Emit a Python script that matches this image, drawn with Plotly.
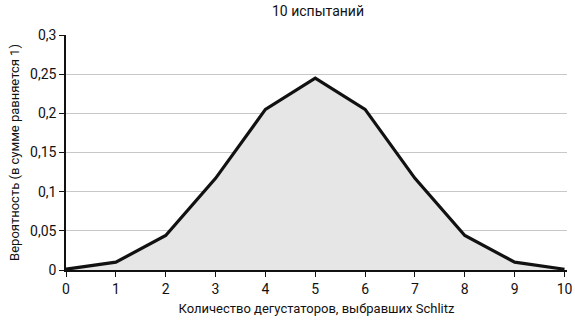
import plotly.graph_objects as go

tasters = [0, 1, 2, 3, 4, 5, 6, 7, 8, 9, 10]
probability = [0.001, 0.010, 0.044, 0.117, 0.205, 0.245, 0.205, 0.117, 0.044, 0.010, 0.001]
y_ticks = [0, 0.05, 0.1, 0.15, 0.2, 0.25, 0.3]
y_tick_labels = ["0", "0,05", "0,1", "0,15", "0,2", "0,25", "0,3"]

FONT = "Liberation Sans Narrow, Roboto, Arial Narrow, sans-serif"

fig = go.Figure()
fig.add_trace(go.Scatter(
    x=tasters, y=probability, mode="lines",
    line=dict(color="#111111", width=3.2),
    fill="tozeroy", fillcolor="#e6e6e6",
    hoverinfo="skip", showlegend=False,
))

fig.update_layout(
    width=575, height=320,
    margin=dict(l=66, r=3, t=35, b=50),
    paper_bgcolor="white", plot_bgcolor="white",
    font=dict(family=FONT, size=14, color="#111111"),
    title=dict(text="10 испытаний", x=0.553, xanchor="center", y=0.965, yanchor="middle",
               font=dict(family=FONT, size=14, color="#111111")),
    xaxis=dict(
        range=[0, 10.05], tickvals=tasters, ticktext=[str(t) for t in tasters],
        showline=True, linecolor="#111111", linewidth=1.5,
        ticks="outside", ticklen=5, tickcolor="#111111",
        showgrid=False, zeroline=False, ticklabeloverflow="allow",
        title=dict(text="Количество дегустаторов, выбравших Schlitz", standoff=8,
                   font=dict(size=13)),
        tickfont=dict(size=14),
    ),
    yaxis=dict(
        range=[0, 0.3], tickvals=y_ticks, ticktext=y_tick_labels,
        showline=True, linecolor="#111111", linewidth=1.5,
        ticks="outside", ticklen=5, tickcolor="#111111",
        showgrid=True, gridcolor="#c8c8c8", gridwidth=1, zeroline=False,
        title=dict(text="Вероятность (в сумме равняется 1)", standoff=8,
                   font=dict(size=13)),
        tickfont=dict(size=14),
    ),
)

fig.write_html("out.html")
